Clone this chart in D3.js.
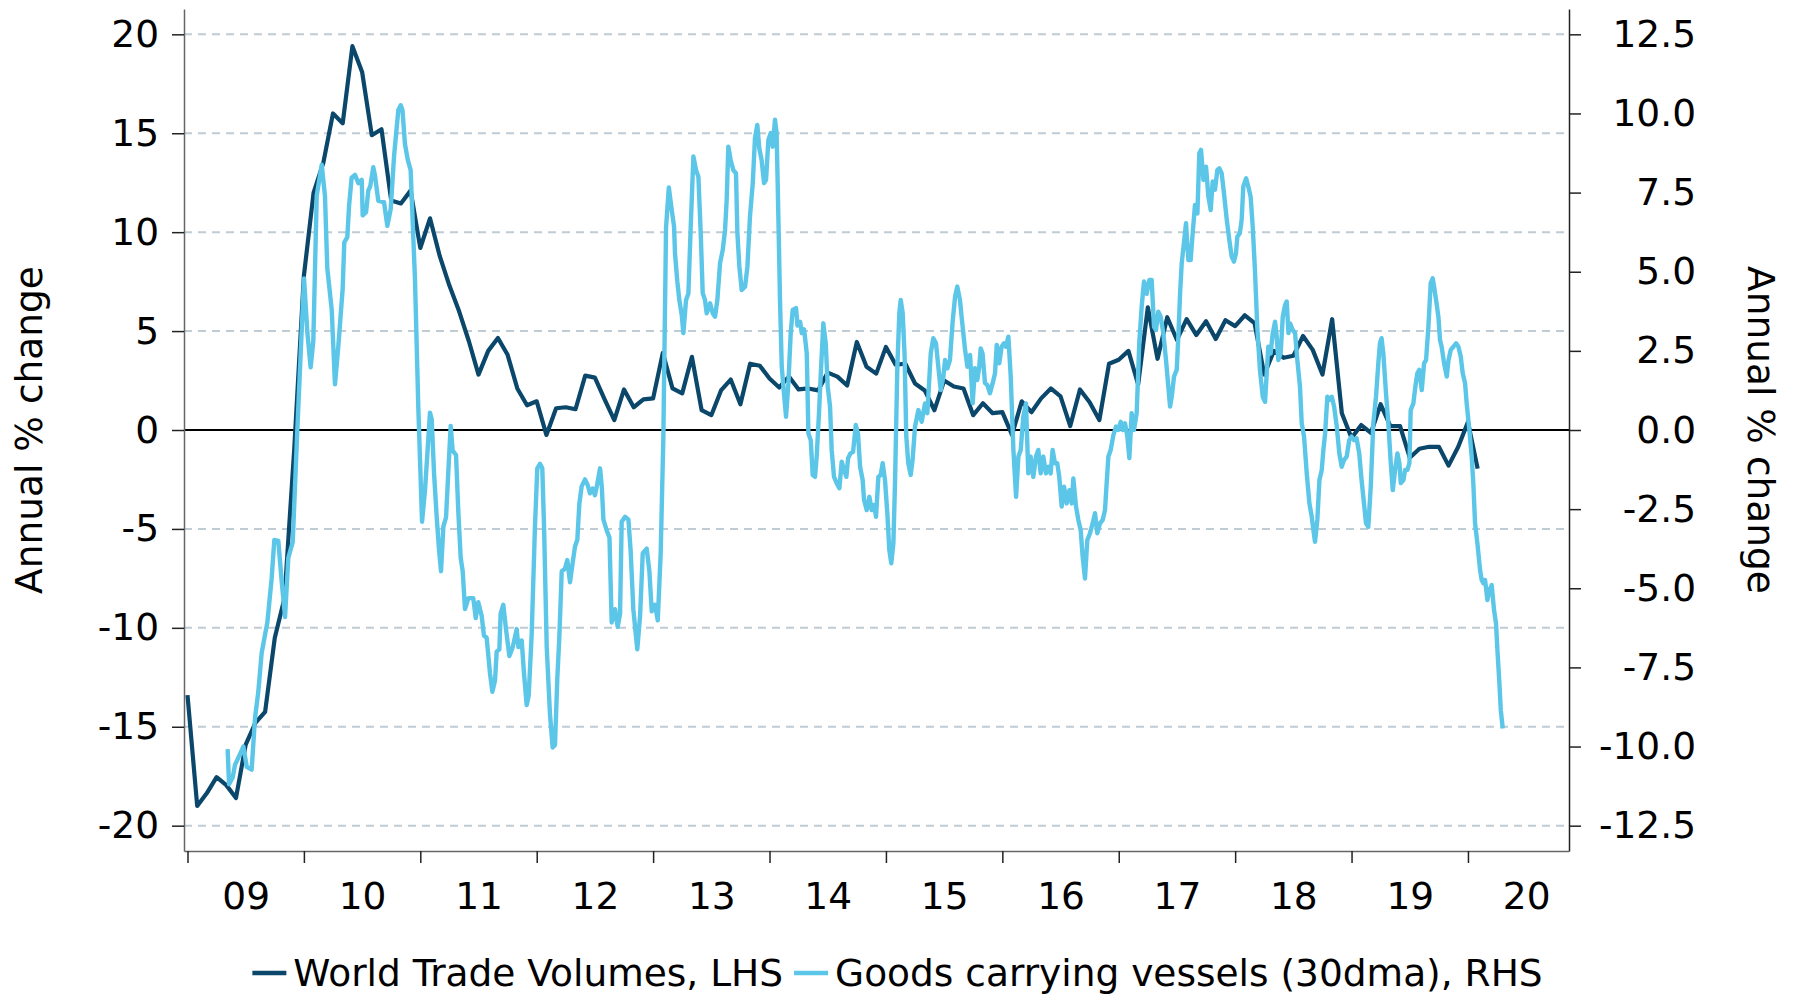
<!DOCTYPE html>
<html>
<head>
<meta charset="utf-8">
<script src="https://cdn.jsdelivr.net/npm/d3@7"></script>
<style>
  body { margin: 0; background: #fff; }
  text { font-family: "DejaVu Sans", Verdana, sans-serif; fill: #000; }
</style>
</head>
<body>
<div id="chart"></div>
<script>
// ---- data ----
const yearTicks = [2009, 2010, 2011, 2012, 2013, 2014, 2015, 2016, 2017, 2018, 2019, 2020];
const yearLabels = ["09", "10", "11", "12", "13", "14", "15", "16", "17", "18", "19", "20"];
const leftTicks = [-20, -15, -10, -5, 0, 5, 10, 15, 20];
const rightTicks = [-12.5, -10, -7.5, -5, -2.5, 0, 2.5, 5, 7.5, 10, 12.5];
const seriesNames = ["World Trade Volumes, LHS", "Goods carrying vessels (30dma), RHS"];

// World trade volumes, monthly from Jan 2009 (LHS, annual % change)
const tradeStartYear = 2009;
const tradeValues = [
  -13.4, -19.0, -18.35, -17.55, -17.95, -18.6, -15.9, -14.8, -14.25, -10.5, -8.5, -1.0,
  7.8, 12.0, 13.5, 16.0, 15.5, 19.4, 18.1, 14.9, 15.2, 11.6, 11.45, 12.1,
  9.2, 10.7, 8.8, 7.3, 6.0, 4.5, 2.8, 4.0, 4.65, 3.8, 2.1, 1.25,
  1.45, -0.25, 1.1, 1.15, 1.05, 2.75, 2.65, 1.55, 0.5, 2.05, 1.15, 1.55,
  1.6, 3.9, 2.1, 1.85, 3.7, 1.0, 0.75, 2.0, 2.55, 1.3, 3.35, 3.25,
  2.6, 2.15, 2.7, 2.05, 2.1, 2.0, 2.9, 2.7, 2.25, 4.45, 3.2, 2.85,
  4.2, 3.3, 3.35, 2.35, 2.0, 1.0, 2.5, 2.2, 2.1, 0.75, 1.35, 0.85,
  0.9, -0.25, 1.45, 0.9, 1.6, 2.1, 1.7, 0.2, 2.05, 1.4, 0.5, 3.35,
  3.55, 4.0, 2.3, 6.2, 3.6, 5.7, 4.55, 5.6, 4.8, 5.5, 4.6, 5.55,
  5.25, 5.8, 5.4, 2.8, 4.0, 3.65, 3.75, 4.75, 4.05, 2.8, 5.6, 0.85,
  -0.4, 0.25, -0.15, 1.3, 0.2, 0.2, -1.4, -0.95, -0.85, -0.85, -1.8, -0.85,
  0.4, -1.95
];

// Goods carrying vessels, 30dma (RHS, annual % change): decimal year, value
const vesselDates = [
  2009.345, 2009.357, 2009.388, 2009.408, 2009.451, 2009.480, 2009.509, 2009.551, 2009.580, 2009.608,
  2009.637, 2009.686, 2009.723, 2009.746, 2009.780, 2009.809, 2009.838, 2009.866, 2009.904, 2009.944,
  2009.981, 2010.001, 2010.030, 2010.058, 2010.081, 2010.110, 2010.153, 2010.181, 2010.201, 2010.239,
  2010.267, 2010.296, 2010.333, 2010.347, 2010.373, 2010.388, 2010.410, 2010.439, 2010.468, 2010.497,
  2010.505, 2010.534, 2010.553, 2010.570, 2010.596, 2010.610, 2010.639, 2010.688, 2010.717, 2010.746,
  2010.774, 2010.811, 2010.832, 2010.847, 2010.868, 2010.892, 2010.917, 2010.954, 2010.983, 2011.015,
  2011.040, 2011.060, 2011.083, 2011.098, 2011.118, 2011.141, 2011.160, 2011.178, 2011.198, 2011.221,
  2011.240, 2011.261, 2011.278, 2011.307, 2011.327, 2011.347, 2011.364, 2011.384, 2011.413, 2011.455,
  2011.476, 2011.498, 2011.527, 2011.547, 2011.570, 2011.599, 2011.619, 2011.642, 2011.656, 2011.679,
  2011.690, 2011.713, 2011.736, 2011.765, 2011.794, 2011.828, 2011.843, 2011.871, 2011.891, 2011.914,
  2011.931, 2011.957, 2011.985, 2012.005, 2012.028, 2012.048, 2012.063, 2012.086, 2012.114, 2012.137,
  2012.157, 2012.177, 2012.194, 2012.215, 2012.243, 2012.263, 2012.286, 2012.309, 2012.329, 2012.349,
  2012.366, 2012.386, 2012.415, 2012.435, 2012.458, 2012.480, 2012.500, 2012.520, 2012.544, 2012.559,
  2012.573, 2012.602, 2012.625, 2012.644, 2012.673, 2012.696, 2012.716, 2012.730, 2012.759, 2012.788,
  2012.807, 2012.830, 2012.864, 2012.888, 2012.911, 2012.945, 2012.968, 2012.988, 2013.016, 2013.040,
  2013.065, 2013.088, 2013.111, 2013.135, 2013.160, 2013.180, 2013.188, 2013.208, 2013.225, 2013.246,
  2013.260, 2013.283, 2013.303, 2013.323, 2013.346, 2013.369, 2013.389, 2013.409, 2013.426, 2013.446,
  2013.460, 2013.489, 2013.512, 2013.532, 2013.552, 2013.575, 2013.598, 2013.618, 2013.632, 2013.646,
  2013.666, 2013.689, 2013.712, 2013.724, 2013.741, 2013.761, 2013.790, 2013.810, 2013.832, 2013.856,
  2013.875, 2013.895, 2013.912, 2013.932, 2013.953, 2013.970, 2013.990, 2014.010, 2014.027, 2014.047,
  2014.061, 2014.076, 2014.090, 2014.105, 2014.124, 2014.142, 2014.162, 2014.182, 2014.199, 2014.228,
  2014.240, 2014.263, 2014.277, 2014.297, 2014.320, 2014.334, 2014.354, 2014.371, 2014.391, 2014.405,
  2014.425, 2014.442, 2014.462, 2014.483, 2014.500, 2014.520, 2014.534, 2014.554, 2014.577, 2014.600,
  2014.620, 2014.640, 2014.660, 2014.675, 2014.695, 2014.718, 2014.741, 2014.760, 2014.778, 2014.800,
  2014.812, 2014.835, 2014.858, 2014.878, 2014.898, 2014.915, 2014.935, 2014.955, 2014.972, 2014.992,
  2015.012, 2015.029, 2015.046, 2015.064, 2015.078, 2015.098, 2015.115, 2015.127, 2015.144, 2015.160,
  2015.175, 2015.192, 2015.213, 2015.229, 2015.250, 2015.279, 2015.307, 2015.336, 2015.356, 2015.385,
  2015.407, 2015.430, 2015.450, 2015.471, 2015.494, 2015.508, 2015.528, 2015.550, 2015.573, 2015.594,
  2015.613, 2015.636, 2015.650, 2015.680, 2015.700, 2015.723, 2015.745, 2015.765, 2015.785, 2015.802,
  2015.814, 2015.830, 2015.851, 2015.871, 2015.894, 2015.917, 2015.937, 2015.952, 2015.974, 2015.994,
  2016.014, 2016.031, 2016.052, 2016.072, 2016.095, 2016.118, 2016.138, 2016.158, 2016.180, 2016.203,
  2016.223, 2016.243, 2016.266, 2016.289, 2016.309, 2016.329, 2016.352, 2016.375, 2016.395, 2016.415,
  2016.432, 2016.452, 2016.472, 2016.489, 2016.510, 2016.530, 2016.553, 2016.576, 2016.596, 2016.610,
  2016.633, 2016.653, 2016.673, 2016.690, 2016.710, 2016.730, 2016.753, 2016.776, 2016.796, 2016.816,
  2016.839, 2016.862, 2016.882, 2016.896, 2016.911, 2016.931, 2016.954, 2016.977, 2016.997, 2017.017,
  2017.034, 2017.054, 2017.074, 2017.091, 2017.111, 2017.131, 2017.154, 2017.177, 2017.197, 2017.217,
  2017.240, 2017.263, 2017.283, 2017.303, 2017.320, 2017.340, 2017.360, 2017.383, 2017.406, 2017.426,
  2017.441, 2017.455, 2017.475, 2017.498, 2017.512, 2017.527, 2017.541, 2017.561, 2017.578, 2017.598,
  2017.618, 2017.635, 2017.655, 2017.676, 2017.692, 2017.707, 2017.727, 2017.750, 2017.770, 2017.790,
  2017.807, 2017.827, 2017.847, 2017.864, 2017.884, 2017.904, 2017.928, 2017.950, 2017.970, 2017.990,
  2018.007, 2018.019, 2018.040, 2018.056, 2018.070, 2018.094, 2018.113, 2018.133, 2018.151, 2018.170,
  2018.190, 2018.213, 2018.237, 2018.257, 2018.271, 2018.285, 2018.305, 2018.323, 2018.343, 2018.357,
  2018.371, 2018.391, 2018.409, 2018.429, 2018.443, 2018.458, 2018.472, 2018.495, 2018.515, 2018.534,
  2018.557, 2018.572, 2018.592, 2018.615, 2018.638, 2018.658, 2018.672, 2018.686, 2018.706, 2018.724,
  2018.744, 2018.758, 2018.773, 2018.792, 2018.810, 2018.830, 2018.850, 2018.873, 2018.895, 2018.915,
  2018.935, 2018.958, 2018.980, 2019.000, 2019.020, 2019.043, 2019.066, 2019.086, 2019.107, 2019.124,
  2019.144, 2019.165, 2019.187, 2019.210, 2019.230, 2019.244, 2019.258, 2019.273, 2019.296, 2019.316,
  2019.337, 2019.354, 2019.374, 2019.394, 2019.411, 2019.423, 2019.446, 2019.460, 2019.480, 2019.497,
  2019.508, 2019.531, 2019.548, 2019.565, 2019.582, 2019.603, 2019.623, 2019.640, 2019.660, 2019.680,
  2019.697, 2019.709, 2019.726, 2019.746, 2019.760, 2019.774, 2019.795, 2019.818, 2019.833, 2019.852,
  2019.875, 2019.898, 2019.918, 2019.938, 2019.955, 2019.975, 2019.989, 2020.012, 2020.032, 2020.046,
  2020.061, 2020.081, 2020.104, 2020.118, 2020.132, 2020.147, 2020.167, 2020.184, 2020.204, 2020.224,
  2020.241, 2020.253, 2020.270, 2020.282, 2020.299
];
const vesselValues = [
  -10.08, -11.19, -10.98, -10.58, -10.24, -10.0, -10.64, -10.73, -9.1, -8.28,
  -7.05, -6.08, -4.69, -3.47, -3.5, -4.77, -5.91, -4.04, -3.54, 0.05,
  3.15, 4.79, 3.07, 1.98, 2.82, 7.4, 8.38, 7.4, 5.11, 3.8,
  1.44, 2.66, 4.46, 5.93, 6.09, 7.08, 7.97, 8.06, 7.8, 7.9,
  6.78, 6.88, 7.56, 7.7, 8.3, 8.06, 7.24, 7.2, 6.45, 6.99,
  8.63, 10.1, 10.26, 10.1, 9.04, 8.54, 8.21, 4.79, 0.7, -2.9,
  -1.92, -0.79, 0.55, 0.34, -1.36, -2.76, -3.75, -4.46, -3.05, -2.76,
  -1.36, 0.13, -0.65, -0.79, -2.62, -4.04, -4.46, -5.66, -5.31, -5.31,
  -5.94, -5.44, -5.87, -6.5, -6.56, -7.7, -8.27, -7.91, -7.0, -6.93,
  -5.8, -5.52, -6.29, -7.14, -6.86, -6.29, -6.86, -6.65, -7.7, -8.69,
  -8.4, -6.43, -3.05, -1.21, -1.07, -1.21, -3.05, -6.86, -8.98, -10.03,
  -9.95, -7.84, -6.57, -4.46, -4.38, -4.11, -4.81, -4.19, -3.68, -3.47,
  -2.34, -1.78, -1.56, -1.71, -2.0, -1.85, -2.06, -1.71, -1.21, -1.78,
  -2.83, -3.18, -3.4, -6.08, -5.66, -6.22, -5.8, -2.9, -2.74, -2.83,
  -3.82, -5.66, -6.93, -5.87, -3.89, -3.75, -4.46, -5.73, -5.52, -6.01,
  -3.89, -0.22, 6.4, 7.66, 6.95, 6.42, 5.58, 4.69, 4.11, 3.63,
  3.06, 4.11, 4.31, 6.42, 8.64, 8.21, 8.0, 6.21, 4.32, 4.11,
  3.69, 4.0, 3.69, 3.58, 4.11, 5.27, 5.69, 6.32, 7.27, 8.95,
  8.53, 8.21, 8.11, 6.21, 5.16, 4.42, 4.53, 5.16, 6.74, 7.8,
  9.22, 9.64, 8.9, 8.53, 7.8, 7.9, 9.16, 9.38, 8.95, 9.8,
  9.38, 6.74, 4.11, 2.0, 1.16, 0.42, 1.48, 3.06, 3.79, 3.85,
  3.3, 3.42, 3.06, 3.18, 2.42, -0.11, -0.32, -1.42, -1.48, -0.84,
  0.53, 1.9, 3.37, 2.74, 1.37, 0.74, -0.63, -1.48, -1.68, -1.84,
  -1.0, -1.26, -1.48, -0.89, -0.74, -0.69, 0.16, -0.11, -1.16, -1.58,
  -2.21, -2.53, -2.11, -2.53, -2.37, -2.74, -1.48, -1.42, -1.05, -1.58,
  -2.63, -3.79, -4.21, -3.58, -1.68, 2.0, 3.69, 4.11, 3.69, 2.4,
  -0.2, -1.05, -1.42, -0.95, 0.11, 0.63, 0.26, 0.84, 0.53, 2.42,
  2.9, 2.74, 2.0, 1.26, 1.69, 2.21, 1.95, 2.21, 3.42, 4.21,
  4.53, 4.11, 3.58, 2.53, 2.0, 2.37, 0.84, 1.95, 1.58, 2.0,
  2.58, 2.42, 1.48, 1.42, 1.16, 1.48, 1.79, 2.69, 2.11, 2.63,
  2.74, 2.63, 2.95, 1.69, -0.63, -2.11, -0.84, -0.63, 0.42, 0.84,
  -1.37, -0.84, -1.48, -0.84, -0.63, -1.37, -0.84, -1.37, -1.16, -1.37,
  -0.63, -1.05, -1.05, -1.48, -2.42, -1.79, -2.32, -1.9, -2.32, -1.53,
  -2.42, -2.84, -3.16, -4.0, -4.69, -3.48, -3.26, -2.95, -2.63, -3.26,
  -2.95, -2.84, -2.53, -1.69, -0.84, -0.63, -0.16, 0.11, 0.0, 0.26,
  0.0, 0.21, -0.21, -0.89, 0.53, 0.0, 0.53, 2.8, 3.9, 4.69,
  4.3, 4.74, 4.74, 3.26, 3.16, 3.74, 3.58, 3.06, 2.21, 1.37,
  0.74, 1.05, 1.69, 1.9, 2.95, 4.32, 5.27, 5.95, 6.53, 5.37,
  5.37, 6.21, 7.11, 6.84, 8.74, 8.85, 7.9, 8.32, 7.37, 6.95,
  7.85, 7.59, 8.21, 8.27, 8.11, 7.48, 6.64, 6.0, 5.48, 5.32,
  5.58, 6.11, 6.21, 6.64, 7.69, 7.95, 7.69, 7.37, 6.42, 5.06,
  3.26, 1.9, 1.05, 0.89, 1.79, 2.63, 2.42, 3.06, 3.42, 2.95,
  2.21, 2.42, 3.58, 3.95, 4.06, 3.06, 3.37, 3.16, 3.06, 2.21,
  1.37, 0.21, -0.21, -1.37, -2.32, -2.74, -3.16, -3.53, -2.84, -1.58,
  -1.26, -0.63, -0.11, 1.05, 0.95, 1.05, 0.74, 0.11, -0.74, -1.16,
  -0.95, -0.84, -0.32, -0.21, -0.32, -0.26, -0.74, -1.58, -2.32, -2.95,
  -3.06, -1.79, 0.21, 1.05, 2.11, 2.74, 2.9, 2.42, 1.16, 0.21,
  -1.05, -1.9, -1.26, -0.74, -1.05, -1.68, -1.58, -1.26, -1.26, -1.05,
  0.63, 0.84, 1.37, 1.79, 1.9, 1.26, 2.11, 2.21, 3.26, 4.64,
  4.79, 4.53, 4.11, 3.58, 2.84, 2.63, 2.11, 1.69, 2.21, 2.53,
  2.63, 2.74, 2.63, 2.32, 1.79, 1.48, 0.84, 0.0, -0.84, -1.68,
  -2.95, -3.58, -4.42, -4.74, -4.84, -4.74, -5.37, -5.06, -4.9, -5.69,
  -6.11, -6.95, -8.0, -8.85, -9.43
];

// ---- layout ----
const width = 1795, height = 995;
const plot = { left: 184, right: 1569, top: 9, bottom: 851 };
const colors = ["#0a476b", "#5bc6e8"];
const fontSize = 37.5;

const svg = d3.select("#chart").append("svg")
  .attr("width", width)
  .attr("height", height);

const x = d3.scaleLinear()
  .domain([2008.97, 2020.868])
  .range([plot.left, plot.right]);

const yLeft = d3.scaleLinear()
  .domain([-21.28, 21.28])
  .range([plot.bottom, plot.top]);

const yRight = d3.scaleLinear()
  .domain([-13.3, 13.3])
  .range([plot.bottom, plot.top]);

// dashed gridlines
svg.append("g")
  .selectAll("line")
  .data(leftTicks.filter(d => d !== 0))
  .join("line")
  .attr("x1", plot.left)
  .attr("x2", plot.right)
  .attr("y1", d => yLeft(d))
  .attr("y2", d => yLeft(d))
  .attr("stroke", "#bfccd3")
  .attr("stroke-width", 2)
  .attr("stroke-dasharray", "8,6");

// zero line
svg.append("line")
  .attr("x1", plot.left)
  .attr("x2", plot.right)
  .attr("y1", yLeft(0))
  .attr("y2", yLeft(0))
  .attr("stroke", "#000")
  .attr("stroke-width", 2);

// axes
const leftAxis = svg.append("g")
  .attr("transform", `translate(${plot.left},0)`)
  .call(d3.axisLeft(yLeft).tickValues(leftTicks).tickSize(12).tickPadding(13)
    .tickSizeOuter(0).tickFormat(d => String(d)));

const rightAxis = svg.append("g")
  .attr("transform", `translate(${plot.right},0)`)
  .call(d3.axisRight(yRight).tickValues(rightTicks).tickSize(12)
    .tickSizeOuter(0).tickFormat(d => d.toFixed(1)));
rightAxis.selectAll(".tick text")
  .attr("x", 127)
  .attr("text-anchor", "end");

const bottomAxis = svg.append("g")
  .attr("transform", `translate(0,${plot.bottom})`)
  .call(d3.axisBottom(x).tickValues(yearTicks).tickSize(12)
    .tickSizeOuter(0).tickFormat(""));

const yearAxis = svg.append("g")
  .attr("transform", `translate(0,${plot.bottom})`)
  .call(d3.axisBottom(x).tickValues(yearTicks.map(d => d + 0.5)).tickSize(0)
    .tickPadding(31).tickFormat((d, i) => yearLabels[i]));
yearAxis.select(".domain").remove();

[leftAxis, rightAxis, bottomAxis, yearAxis].forEach(g => {
  g.selectAll("text")
    .attr("font-size", fontSize)
    .attr("font-family", "DejaVu Sans, Verdana, sans-serif")
    .attr("fill", "#000");
  g.selectAll(".tick line").attr("stroke", "#222").attr("stroke-width", 1.5);
});
leftAxis.select(".domain").attr("stroke", "#666").attr("stroke-width", 1.5);
bottomAxis.select(".domain").attr("stroke", "#666").attr("stroke-width", 1.5);
rightAxis.select(".domain").attr("stroke", "#222").attr("stroke-width", 1.5);

// axis titles
svg.append("text")
  .attr("transform", `translate(29,${yLeft(0)}) rotate(-90)`)
  .attr("text-anchor", "middle")
  .attr("dy", "0.35em")
  .attr("font-size", fontSize)
  .text("Annual % change");

svg.append("text")
  .attr("transform", `translate(1761,${yLeft(0)}) rotate(90)`)
  .attr("text-anchor", "middle")
  .attr("dy", "0.35em")
  .attr("font-size", fontSize)
  .text("Annual % change");

// lines
const tradeLine = d3.line()
  .x((d, i) => x(tradeStartYear + i / 12))
  .y(d => yLeft(d));

const vesselLine = d3.line()
  .x((d, i) => x(vesselDates[i]))
  .y(d => yRight(d));

svg.append("path")
  .datum(tradeValues)
  .attr("d", tradeLine)
  .attr("fill", "none")
  .attr("stroke", colors[0])
  .attr("stroke-width", 4.2)
  .attr("stroke-linejoin", "round");

svg.append("path")
  .datum(vesselValues)
  .attr("d", vesselLine)
  .attr("fill", "none")
  .attr("stroke", colors[1])
  .attr("stroke-width", 4.4)
  .attr("stroke-linejoin", "round");

// legend
const legend = svg.append("g");
let cursor = 0;
seriesNames.forEach((name, i) => {
  const item = legend.append("g").attr("transform", `translate(${cursor},0)`);
  item.append("line")
    .attr("x1", 0).attr("x2", 34)
    .attr("y1", 0).attr("y2", 0)
    .attr("stroke", colors[i])
    .attr("stroke-width", 4.5);
  const t = item.append("text")
    .attr("x", 41)
    .attr("dy", "0.35em")
    .attr("font-size", fontSize)
    .text(name);
  cursor += 41 + t.node().getComputedTextLength() + 11;
});
const legendWidth = cursor - 11;
legend.attr("transform", `translate(${(width - legendWidth) / 2},973)`);
</script>
</body>
</html>
